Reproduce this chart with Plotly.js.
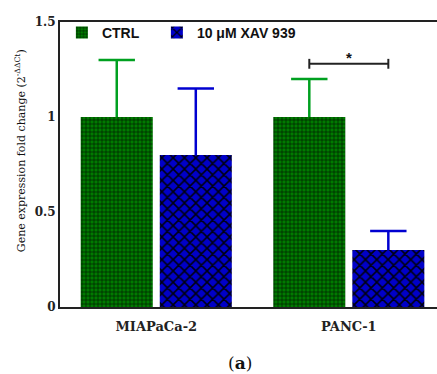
<!DOCTYPE html>
<html>
<head>
<meta charset="utf-8">
<script src="https://cdn.plot.ly/plotly-3.0.1.min.js"></script>
<style>html,body{margin:0;padding:0;background:#fff;}#chart{width:437px;height:374px;}</style>
</head>
<body>
<div id="chart"></div>
<script>
const categories = ['MIAPaCa-2', 'PANC-1'];
const seriesNames = ['CTRL', '10 \u03bcM XAV 939'];
const ctrlValues = [1.0, 1.0];
const ctrlErrors = [0.3, 0.2];
const xavValues = [0.8, 0.3];
const xavErrors = [0.35, 0.1];
const yTickVals = [0, 0.5, 1, 1.5];
const yTickText = ['0', '0.5', '1', '1.5'];
const sigCategoryIndex = 1;
const sigY = 1.28;
const sigLabel = '*';

const bargap = 0.179;
const halfSlot = (1 - bargap) / 4;
const serif = 'DejaVu Serif, serif';
const sans = 'Liberation Sans, Arial, sans-serif';
const catPos = categories.map((c, i) => i);

const green = '#007a00', greenErr = '#00a020', blue = '#0000c8', blueErr = '#0000d0';

function errTrace(values, errors, offset, color) {
  return {
    type: 'scatter', mode: 'markers', showlegend: false, hoverinfo: 'skip',
    x: catPos.map(p => p + offset),
    y: values.map((v, i) => v + errors[i]),
    marker: {symbol: 'line-ew', size: 26, color: color, line: {color: color, width: 2.5}},
    error_y: {type: 'data', symmetric: false, array: errors.map(() => 0), arrayminus: errors,
      color: color, thickness: 2.5, width: 0}
  };
}

const traces = [
  {
    type: 'bar', name: seriesNames[0], x: catPos, y: ctrlValues, legend: 'legend',
    marker: {color: green, line: {width: 0},
      pattern: {shape: '+', bgcolor: green, fgcolor: '#001a00', size: 4, solidity: 0.3}}
  },
  {
    type: 'bar', name: seriesNames[1], x: catPos, y: xavValues, legend: 'legend2',
    marker: {color: blue, line: {width: 0},
      pattern: {shape: 'x', bgcolor: blue, fgcolor: '#000010', size: 8, solidity: 0.35}}
  },
  errTrace(ctrlValues, ctrlErrors, -halfSlot, greenErr),
  errTrace(xavValues, xavErrors, halfSlot, blueErr)
];

const x0 = sigCategoryIndex - halfSlot, x1 = sigCategoryIndex + halfSlot;
const capH = 0.026;
const lineStyle = {color: '#222', width: 2};
const legendFont = {family: sans, size: 14, color: '#111', weight: 'bold'};

const layout = {
  width: 437, height: 374,
  margin: {l: 60, r: 0, t: 22, b: 67},
  paper_bgcolor: '#fff', plot_bgcolor: '#fff',
  barmode: 'group', bargap: bargap, bargroupgap: 0.0886,
  showlegend: true,
  legend: {orientation: 'h', x: 0.005, y: 1.018, xanchor: 'left', yanchor: 'top',
    bgcolor: 'rgba(0,0,0,0)', font: legendFont},
  legend2: {orientation: 'h', x: 0.257, y: 1.018, xanchor: 'left', yanchor: 'top',
    bgcolor: 'rgba(0,0,0,0)', font: legendFont},
  xaxis: {
    type: 'linear', range: [-0.5, 1.458], tickvals: catPos, ticktext: categories,
    showline: true, linecolor: '#222', linewidth: 2,
    mirror: true, ticks: '', showgrid: false, zeroline: false, ticklabelstandoff: 6,
    tickfont: {family: serif, size: 13, color: '#222', weight: 'bold'}
  },
  yaxis: {
    range: [0, 1.5], tickvals: yTickVals, ticktext: yTickText, showline: true,
    linecolor: '#222', linewidth: 2, ticks: '', showgrid: false, zeroline: false,
    tickfont: {family: serif, size: 12, color: '#222', weight: 'bold'}
  },
  shapes: [
    {type: 'line', xref: 'x', yref: 'y', x0: x0, x1: x1, y0: sigY, y1: sigY, line: lineStyle},
    {type: 'line', xref: 'x', yref: 'y', x0: x0, x1: x0, y0: sigY - capH, y1: sigY + capH, line: lineStyle},
    {type: 'line', xref: 'x', yref: 'y', x0: x1, x1: x1, y0: sigY - capH, y1: sigY + capH, line: lineStyle}
  ],
  annotations: [
    {xref: 'x', yref: 'y', x: sigCategoryIndex, y: sigY, text: '<b>' + sigLabel + '</b>',
      showarrow: false, yanchor: 'bottom', yshift: -4, font: {family: sans, size: 15, color: '#111'}},
    {xref: 'paper', yref: 'paper', x: -0.106, y: 0.547, textangle: -90, showarrow: false,
      xanchor: 'center', yanchor: 'middle',
      text: 'Gene expression fold change (2<sup>-\u0394\u0394Ct</sup>)',
      font: {family: serif, size: 11, color: '#111'}},
    {xref: 'paper', yref: 'paper', x: 0.477, y: -0.196, showarrow: false,
      xanchor: 'center', yanchor: 'middle', text: '(<b>a</b>)',
      font: {family: serif, size: 17, color: '#111'}}
  ]
};

Plotly.newPlot('chart', traces, layout, {displayModeBar: false, staticPlot: true});
</script>
</body>
</html>
